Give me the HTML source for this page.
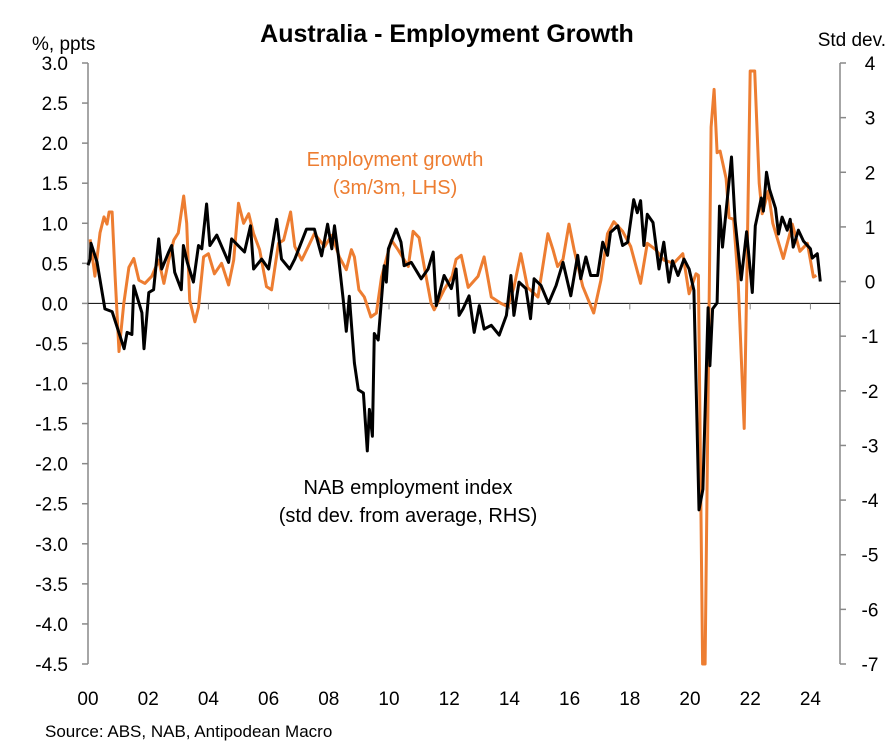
<!DOCTYPE html>
<html><head><meta charset="utf-8"><style>
body{margin:0;background:#fff;}
svg text{font-family:"Liberation Sans",Arial,sans-serif;}
</style></head><body>
<svg id="chart" width="891" height="748" viewBox="0 0 891 748" xmlns="http://www.w3.org/2000/svg">
<text x="447" y="42" text-anchor="middle" font-size="25" font-weight="bold">Australia - Employment Growth</text>
<text x="32" y="50" font-size="19">%, ppts</text>
<text x="886" y="46" text-anchor="end" font-size="19">Std dev.</text>
<text x="45" y="737" font-size="17">Source: ABS, NAB, Antipodean Macro</text>
<text x="395" y="166" text-anchor="middle" font-size="20" fill="#ED7D31">Employment growth</text>
<text x="395" y="194" text-anchor="middle" font-size="20" fill="#ED7D31">(3m/3m, LHS)</text>
<text x="408" y="494" text-anchor="middle" font-size="20">NAB employment index</text>
<text x="408" y="522" text-anchor="middle" font-size="20">(std dev. from average, RHS)</text>
<g id="axes"></g>
<g id="series"></g>
</svg>
<script>
const leftTicks=[3.0,2.5,2.0,1.5,1.0,0.5,0.0,-0.5,-1.0,-1.5,-2.0,-2.5,-3.0,-3.5,-4.0,-4.5];
const rightTicks=[4,3,2,1,0,-1,-2,-3,-4,-5,-6,-7];
const yearTicks=[0,2,4,6,8,10,12,14,16,18,20,22,24];
const yearLabels=["00","02","04","06","08","10","12","14","16","18","20","22","24"];
const empDates=[0.07,0.23,0.4,0.53,0.63,0.7,0.8,0.9,1.03,1.19,1.36,1.52,1.69,1.89,2.12,2.35,2.52,2.68,2.85,3.0,3.18,3.28,3.38,3.55,3.67,3.84,4.0,4.2,4.44,4.67,4.84,5.0,5.17,5.34,5.5,5.7,5.93,6.1,6.33,6.5,6.73,6.87,7.1,7.32,7.52,7.86,8.1,8.35,8.58,8.75,8.85,9.0,9.18,9.4,9.58,9.75,10.08,10.3,10.64,10.8,11.0,11.17,11.4,11.5,11.83,12.1,12.23,12.4,12.63,12.96,13.16,13.4,13.72,13.95,14.15,14.38,14.6,14.95,15.28,15.45,15.6,15.78,15.98,16.15,16.44,16.8,17.04,17.26,17.47,17.76,18.03,18.36,18.58,18.86,19.13,19.46,19.76,19.97,20.2,20.28,20.42,20.5,20.7,20.8,20.9,21.0,21.2,21.3,21.45,21.6,21.8,21.9,22.0,22.15,22.3,22.4,22.6,22.75,23.1,23.4,23.65,23.9,24.1,24.2];
const empGrowth=[0.8,0.34,0.88,1.08,0.99,1.14,1.14,0.34,-0.6,0.0,0.45,0.56,0.29,0.25,0.34,0.54,0.25,0.54,0.79,0.88,1.34,1.0,0.04,-0.23,-0.05,0.58,0.62,0.37,0.5,0.23,0.54,1.25,1.0,1.12,0.87,0.67,0.21,0.17,0.75,0.79,1.14,0.71,0.54,0.71,0.87,0.71,0.85,0.58,0.42,0.67,0.58,0.17,0.08,-0.17,-0.12,0.33,0.79,0.67,0.46,0.9,0.82,0.46,0.0,-0.08,0.17,0.34,0.55,0.6,0.2,0.34,0.58,0.08,0.0,-0.04,0.2,0.62,0.2,0.08,0.87,0.67,0.46,0.55,0.99,0.67,0.21,-0.12,0.29,0.87,1.02,0.9,0.71,0.25,0.75,0.67,0.54,0.5,0.62,0.12,0.37,0.35,-4.5,-4.5,2.2,2.67,1.88,1.9,1.56,1.07,1.05,0.26,-1.56,0.6,2.9,2.9,1.5,1.12,1.4,1.0,0.56,0.99,0.65,0.75,0.33,0.35];
const nabDates=[0.0,0.07,0.1,0.3,0.56,0.8,1.2,1.3,1.46,1.52,1.79,1.86,2.02,2.18,2.35,2.45,2.68,2.78,2.88,3.1,3.17,3.3,3.5,3.67,3.78,3.94,4.05,4.28,4.67,4.77,5.2,5.4,5.5,5.77,6.0,6.27,6.43,6.7,6.87,7.26,7.52,7.76,7.96,8.1,8.19,8.32,8.48,8.58,8.68,8.85,8.98,9.15,9.28,9.35,9.45,9.51,9.64,9.84,9.91,9.98,10.24,10.4,10.5,10.74,11.07,11.3,11.47,11.57,11.83,12.07,12.23,12.33,12.46,12.66,12.83,13.0,13.16,13.4,13.66,13.9,14.05,14.15,14.32,14.55,14.7,14.82,15.05,15.3,15.55,15.78,16.04,16.27,16.37,16.54,16.7,16.93,17.1,17.26,17.36,17.6,17.76,17.93,18.13,18.25,18.36,18.47,18.58,18.77,18.97,19.13,19.3,19.42,19.6,19.8,19.97,20.13,20.3,20.43,20.6,20.66,20.75,20.9,20.98,21.08,21.38,21.5,21.7,21.88,22.07,22.17,22.37,22.44,22.54,22.64,22.84,22.94,23.06,23.23,23.33,23.43,23.6,23.77,24.0,24.06,24.23,24.33];
const nabIndex=[0.3,0.41,0.7,0.36,-0.5,-0.55,-1.23,-0.93,-0.97,-0.08,-0.57,-1.23,-0.2,-0.15,0.78,0.23,0.54,0.66,0.17,-0.15,0.66,0.35,-0.01,0.66,0.6,1.42,0.66,0.85,0.35,0.78,0.54,1.02,0.23,0.41,0.23,1.14,0.41,0.23,0.41,0.96,0.96,0.47,1.05,0.6,1.02,0.47,-0.33,-0.91,-0.27,-1.49,-1.98,-2.04,-3.1,-2.34,-2.83,-0.95,-1.07,0.29,-0.01,0.6,0.96,0.72,0.29,0.35,0.05,0.23,0.54,-0.44,0.11,-0.13,0.23,-0.62,-0.5,-0.26,-0.93,-0.44,-0.87,-0.8,-0.98,-0.62,0.11,-0.62,-0.01,-0.13,-0.68,0.05,-0.07,-0.4,-0.07,0.35,-0.26,0.48,0.05,0.45,0.11,0.11,0.72,0.48,0.9,1.02,0.66,0.72,1.5,1.26,1.48,0.66,1.23,1.08,0.23,0.72,-0.01,0.38,0.11,0.41,0.23,-0.16,-4.18,-3.8,-0.48,-1.54,-0.5,-0.39,1.38,0.63,2.28,1.11,0.03,0.91,-0.2,1.02,1.53,1.29,2.0,1.69,1.34,0.87,1.18,0.94,1.14,0.63,0.94,0.74,0.6,0.43,0.51,0.0];

const NS="http://www.w3.org/2000/svg";
const X0=88,X1=840,YT=63,YB=664;
function xS(yr){return X0+yr*30.1;}
function yL(v){return YT+(3-v)*(YB-YT)/7.5;}
function yR(v){return YT+(4-v)*(YB-YT)/11;}
function mk(tag,attrs,parent){const e=document.createElementNS(NS,tag);for(const k in attrs)e.setAttribute(k,attrs[k]);parent.appendChild(e);return e;}
const ax=document.getElementById('axes'),se=document.getElementById('series');
let l=mk('line',{x1:X0,y1:YT,x2:X0,y2:YB,stroke:'#888','stroke-width':1.5},ax);


l=mk('line',{x1:X1,y1:YT,x2:X1,y2:YB,stroke:'#888','stroke-width':1.5},ax);


leftTicks.forEach(v=>{const y=yL(v);
 mk('line',{x1:X0-6,y1:y,x2:X0,y2:y,stroke:'#888','stroke-width':1.5},ax);
 const t=mk('text',{x:68,y:y+7,'text-anchor':'end','font-size':19},ax);t.textContent=v.toFixed(1);
 
 });
rightTicks.forEach(v=>{const y=yR(v);
 mk('line',{x1:X1,y1:y,x2:X1+6,y2:y,stroke:'#888','stroke-width':1.5},ax);
 const t=mk('text',{x:870,y:y+7,'text-anchor':'middle','font-size':19},ax);t.textContent=String(v);
 
 });
const z=yL(0);
l=mk('line',{x1:X0,y1:z,x2:X1,y2:z,stroke:'#000','stroke-width':1},ax);


yearTicks.forEach((yr,i)=>{const x=xS(yr);
 mk('line',{x1:x,y1:z,x2:x,y2:z+6,stroke:'#888','stroke-width':1},ax);
 const t=mk('text',{x:x,y:705,'text-anchor':'middle','font-size':19},ax);t.textContent=yearLabels[i];
 
 });
let p=mk('polyline',{points:empDates.map((d,i)=>xS(d).toFixed(1)+','+yL(empGrowth[i]).toFixed(1)).join(' '),fill:'none',stroke:'#ED7D31','stroke-width':3,'stroke-linejoin':'round'},se);


p=mk('polyline',{points:nabDates.map((d,i)=>xS(d).toFixed(1)+','+yR(nabIndex[i]).toFixed(1)).join(' '),fill:'none',stroke:'#000','stroke-width':3,'stroke-linejoin':'round'},se);


</script>
</body></html>
